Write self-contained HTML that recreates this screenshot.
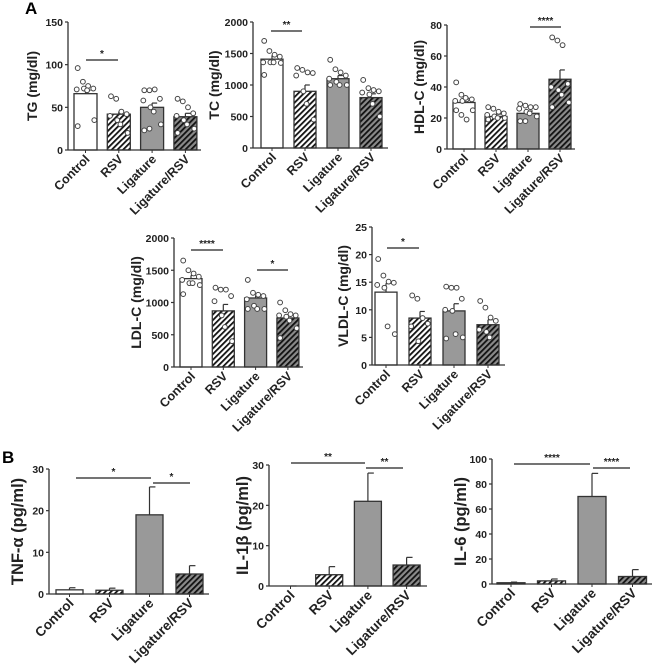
<!DOCTYPE html>
<html><head><meta charset="utf-8"><style>
body{margin:0;background:#fff}
svg{display:block;font-family:"Liberation Sans",Arial,sans-serif}
</style></head><body>
<svg id="fig" width="654" height="669" viewBox="0 0 654 669">
<defs>
<pattern id="hatchW" patternUnits="userSpaceOnUse" width="4" height="4" patternTransform="rotate(45)"><rect width="4" height="4" fill="#fff"/><rect width="1.8" height="4" fill="#111"/></pattern>
<pattern id="hatchG" patternUnits="userSpaceOnUse" width="4" height="4" patternTransform="rotate(45)"><rect width="4" height="4" fill="#8a8a8a"/><rect width="1.8" height="4" fill="#111"/></pattern>
</defs>
<text x="25" y="14" font-size="17" font-weight="bold">A</text>
<text x="2" y="463" font-size="17" font-weight="bold">B</text>
</svg>
<script>
const categories = ["Control","RSV","Ligature","Ligature/RSV"];
const tgMeans=[66,42,50,39], tgErr=[70,45,55,43];
const tgDots=[[96,80,75,72,71,72,70,35,28],[63,60,45,42,40,35,30,20],[70,70,71,60,58,50,45,30,23,25],[60,57,50,43,40,35,30,25,20]];
const tcMeans=[1410,900,1100,800], tcErr=[1470,1000,1150,860];
const tcDots=[[1700,1540,1480,1450,1360,1360,1360,1350,1160],[1270,1240,1200,1190,1150,900,700,450],[1400,1250,1200,1150,1100,1050,1000,1000,1000],[1080,950,920,900,880,850,700,500]];
const hdlMeans=[30,21,23,45], hdlErr=[31.5,22.5,24.5,51];
const hdlDots=[[43,35,32,32,31,31,33,25,25,22,19],[27,26,24,23,22,21,20,20,19],[29,28,27,27,26,24,23,21,18,18],[72,70,67,42,40,38,35,30,27]];
const ldlMeans=[1370,870,1070,760], ldlErr=[1420,970,1110,810];
const ldlDots=[[1650,1500,1450,1400,1350,1300,1300,1270,1130],[1230,1200,1200,1100,1020,800,620,400],[1350,1150,1120,1100,1050,950,900,900,900],[1000,880,820,800,800,780,720,600,450]];
const vldlMeans=[13.2,8.5,9.8,7.3], vldlErr=[14.8,9.7,11.1,8.2];
const vldlDots=[[19.2,16.2,15.1,14.9,14.5,14.0,7.0,5.6],[12.6,12.0,8.5,7.5,7.0,4.3],[14.2,14.0,14.0,12.0,10.0,9.8,5.6,5.0,4.8],[11.6,10.4,8.6,8.0,6.4,6.0,5.0]];
const tnfMeans=[1.0,0.9,19,4.8], tnfErr=[1.5,1.4,25.7,6.8];
const il1Means=[0,2.8,21,5.2], il1Err=[0,4.8,28,7.1];
const il6Means=[1,2.5,70,6], il6Err=[1.5,4,88.5,11.5];
const tgTicks=[0,50,100,150], tcTicks=[0,500,1000,1500,2000], hdlTicks=[0,20,40,60,80];
const ldlTicks=[0,500,1000,1500,2000], vldlTicks=[0,5,10,15,20,25];
const tnfTicks=[0,10,20,30], il1Ticks=[0,10,20,30], il6Ticks=[0,20,40,60,80,100];

const NS="http://www.w3.org/2000/svg", svg=document.getElementById('fig');
const fills=["#fff","url(#hatchW)","#999","url(#hatchG)"];
function mk(tag,at,parent){const e=document.createElementNS(NS,tag);for(const k in at)e.setAttribute(k,at[k]);(parent||svg).appendChild(e);return e;}

function panel(p){
  const g=mk('g',{});
  
  
  const max=p.ticks[p.ticks.length-1];
  const Y=v=>p.y0-(v/max)*(p.y0-p.yTop);
  const X=i=>p.bar0+i*p.step;
  p.means.forEach((m,i)=>{
    const bx=X(i), cx=bx+p.bw/2;
    const eb=mk('line',{x1:cx,x2:cx,y1:Y(m),y2:Y(p.err[i]),stroke:'#333','stroke-width':1.2},g);
    
    
    const ec=mk('line',{x1:cx,x2:cx+p.bw*0.22,y1:Y(p.err[i]),y2:Y(p.err[i]),stroke:'#333','stroke-width':1.2},g);
    
    
    const r=mk('rect',{x:bx,y:Y(m),width:p.bw,height:Math.max(0,p.y0-Y(m)),fill:fills[i],stroke:'#333','stroke-width':1.3},g);
    
    
    if(p.dots){
      const d=p.dots[i];
      d.forEach((v,j)=>{
        const off=((j%4)-1.5)*5.2+(j%2?1:-1)*((j>>2)%2);
        const c=mk('circle',{cx:cx+off,cy:Y(v),r:2.4,fill:'#fff',stroke:'#444','stroke-width':1},g);
        
        
      });
    }
    const lx=cx+5, ly=p.y0+10;
    const t=mk('text',{x:lx,y:ly,'font-size':p.fs,'font-weight':'bold','text-anchor':'end',transform:`rotate(-45 ${lx} ${ly})`,fill:'#222'},g);
    t.textContent=categories[i];
    
    
  });
  const ya=mk('line',{x1:p.ax,x2:p.ax,y1:p.yTop,y2:p.y0,stroke:'#333','stroke-width':1.3},g);
  
  
  const xa=mk('line',{x1:p.ax,x2:p.xEnd,y1:p.y0,y2:p.y0,stroke:'#333','stroke-width':1.3},g);
  
  
  p.means.forEach((m,i)=>{const cx=X(i)+p.bw/2;mk('line',{x1:cx,x2:cx,y1:p.y0,y2:p.y0+3,stroke:'#333'},g);});
  p.ticks.forEach(v=>{
    mk('line',{x1:p.ax-3,x2:p.ax,y1:Y(v),y2:Y(v),stroke:'#333','stroke-width':1.2},g);
    const t=mk('text',{x:p.ax-5,y:Y(v)+4,'font-size':p.tfs,'font-weight':'bold','text-anchor':'end',fill:'#222'},g);
    t.textContent=v;
    
    
  });
  const ym=(p.yTop+p.y0)/2;
  const tt=mk('text',{x:p.tx,y:ym,'font-size':p.yfs,'font-weight':'bold','text-anchor':'middle',transform:`rotate(-90 ${p.tx} ${ym})`,fill:'#222'},g);
  tt.textContent=p.title;
  
  
  (p.sig||[]).forEach(s=>{
    const l=mk('line',{x1:s[0],x2:s[1],y1:s[2],y2:s[2],stroke:'#222','stroke-width':1.3},g);
    
    
    const t=mk('text',{x:(s[0]+s[1])/2,y:s[2]-3,'font-size':10,'font-weight':'bold','text-anchor':'middle',fill:'#222'},g);
    t.textContent=s[3];
    
    
  });
}
const A={fs:12.5,tfs:10.5,yfs:14};
const B={fs:13.5,tfs:10.5,yfs:16.5};
panel({name:'tg',title:'TG (mg/dl)',means:tgMeans,err:tgErr,dots:tgDots,ticks:tgTicks,ax:68,y0:150,yTop:22,xEnd:201,bar0:74,step:33.3,bw:23,tx:37,sig:[[86,118,60,'*']],...A});
panel({name:'tc',title:'TC (mg/dl)',means:tcMeans,err:tcErr,dots:tcDots,ticks:tcTicks,ax:253,y0:148,yTop:22,xEnd:388,bar0:261,step:33,bw:22,tx:219,sig:[[271,302,31,'**']],...A});
panel({name:'hdl',title:'HDL-C (mg/dl)',means:hdlMeans,err:hdlErr,dots:hdlDots,ticks:hdlTicks,ax:447,y0:149,yTop:25,xEnd:575,bar0:453,step:32,bw:22,tx:424,sig:[[530,561,27,'****']],...A});
panel({name:'ldl',title:'LDL-C (mg/dl)',means:ldlMeans,err:ldlErr,dots:ldlDots,ticks:ldlTicks,ax:174,y0:367,yTop:238,xEnd:303,bar0:180,step:32.3,bw:22,tx:141,sig:[[191,223,250,'****'],[257,288,270,'*']],...A});
panel({name:'vldl',title:'VLDL-C (mg/dl)',means:vldlMeans,err:vldlErr,dots:vldlDots,ticks:vldlTicks,ax:372,y0:365,yTop:227,xEnd:505,bar0:375,step:34,bw:22,tx:348,sig:[[387,419,248,'*']],...A});
panel({name:'tnf',title:'TNF-α (pg/ml)',means:tnfMeans,err:tnfErr,ticks:tnfTicks,ax:49,y0:594,yTop:469,xEnd:209,bar0:56,step:40,bw:27,tx:23,sig:[[76,151,478,'*'],[153,190,483,'*']],...B});
panel({name:'il1b',title:'IL-1β (pg/ml)',means:il1Means,err:il1Err,ticks:il1Ticks,ax:269,y0:586,yTop:465,xEnd:427,bar0:277,step:38.7,bw:27,tx:248,sig:[[291,365,463,'**'],[366,403,468,'**']],...B});
panel({name:'il6',title:'IL-6 (pg/ml)',means:il6Means,err:il6Err,ticks:il6Ticks,ax:492,y0:584,yTop:459,xEnd:652,bar0:497,step:40.5,bw:28,tx:466,sig:[[514,590,464,'****'],[593,630,468,'****']],...B});
</script>
</body></html>
